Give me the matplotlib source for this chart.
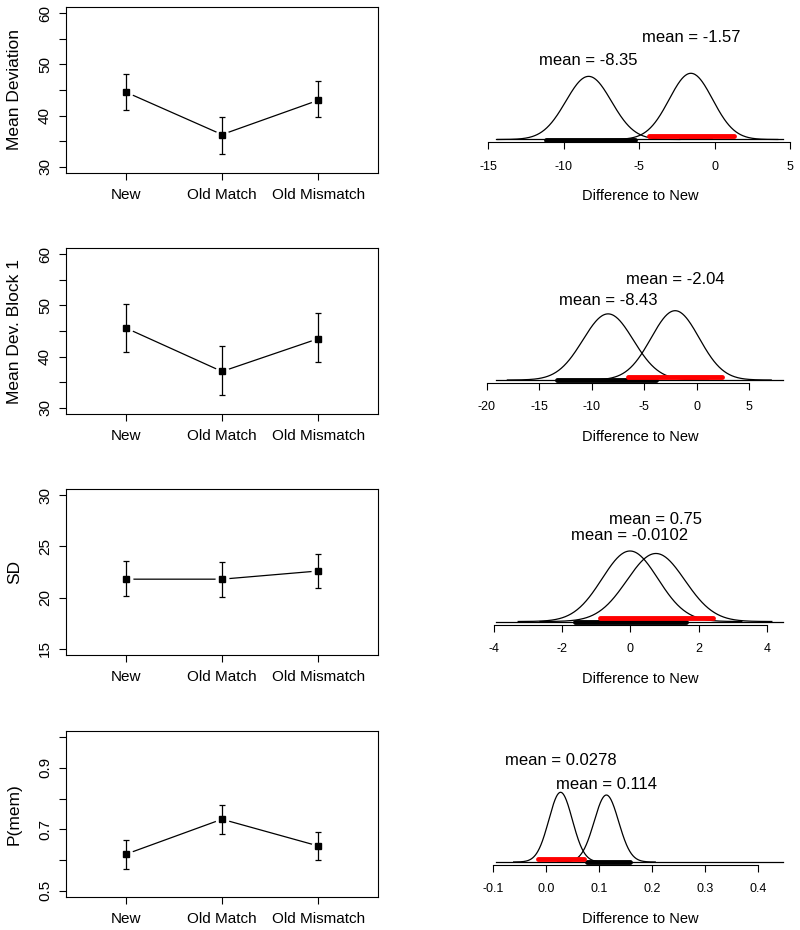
import numpy as np
import matplotlib.pyplot as plt
from matplotlib.transforms import ScaledTranslation

plt.rcParams['font.family'] = ['Liberation Sans', 'DejaVu Sans']
plt.rcParams['axes.unicode_minus'] = False

# ---- data: condition means with interval ends (left column)
cond = ["New", "Old Match", "Old Mismatch"]

md_mean = [44.6, 36.3, 43.0]
md_lo = [41.0, 32.5, 39.7]
md_hi = [48.1, 39.7, 46.8]

b1_mean = [45.6, 37.1, 43.5]
b1_lo = [40.9, 32.5, 39.0]
b1_hi = [50.3, 42.1, 48.5]

sd_mean = [21.8, 21.8, 22.6]
sd_lo = [20.2, 20.1, 20.9]
sd_hi = [23.6, 23.45, 24.3]

pm_mean = [0.619, 0.733, 0.646]
pm_lo = [0.572, 0.686, 0.599]
pm_hi = [0.665, 0.780, 0.692]

ylabels = ["Mean Deviation", "Mean Dev. Block 1", "SD", "P(mem)"]
ylims = [(30, 60), (30, 60), (15, 30), (0.5, 1.0)]
yticks = [[30, 35, 40, 45, 50, 55, 60],
          [30, 35, 40, 45, 50, 55, 60],
          [15, 20, 25, 30],
          [0.5, 0.6, 0.7, 0.8, 0.9, 1.0]]
ytick_labels = [["30", "", "40", "", "50", "", "60"],
                ["30", "", "40", "", "50", "", "60"],
                ["15", "20", "25", "30"],
                ["0.5", "", "0.7", "", "0.9", ""]]

# ---- data: posterior of difference to New (right column)
# Old Match - New (black)
match_mean = [-8.35, -8.43, -0.0102, 0.114]
match_sd = [1.51, 2.40, 0.82, 0.0230]
match_hdi = [(-11.19, -5.27), (-13.3, -3.9), (-1.62, 1.63), (0.0777, 0.1584)]
# Old Mismatch - New (red)
mism_mean = [-1.57, -2.04, 0.75, 0.0278]
mism_sd = [1.44, 2.29, 0.85, 0.0221]
mism_hdi = [(-4.32, 1.32), (-6.56, 2.40), (-0.89, 2.43), (-0.0153, 0.0724)]
extra_seg = {0: (-2.29, -0.19)}

xticks_r = [[-15, -10, -5, 0, 5],
            [-20, -15, -10, -5, 0, 5],
            [-4, -2, 0, 2, 4],
            [-0.1, 0.0, 0.1, 0.2, 0.3, 0.4]]
xtick_labels_r = [["-15", "-10", "-5", "0", "5"],
                  ["-20", "-15", "-10", "-5", "0", "5"],
                  ["-4", "-2", "0", "2", "4"],
                  ["-0.1", "0.0", "0.1", "0.2", "0.3", "0.4"]]

# ---- layout (pixels)
W, H = 800, 930
fig = plt.figure(figsize=(8, 9.3), dpi=100)


def px_axes(x0, y0, x1, y1):
    return fig.add_axes([x0 / W, 1 - y1 / H, (x1 - x0) / W, (y1 - y0) / H])


def shift(ax, dy_px):
    return ax.transData + ScaledTranslation(0, dy_px / 100, fig.dpi_scale_trans)


left_tops = [7, 248, 489, 731]
left_data = [(md_mean, md_lo, md_hi), (b1_mean, b1_lo, b1_hi),
             (sd_mean, sd_lo, sd_hi), (pm_mean, pm_lo, pm_hi)]

for i, (m, lo, hi) in enumerate(left_data):
    top = left_tops[i]
    ax = px_axes(66, top, 378, top + 166)
    m, lo, hi = np.array(m), np.array(lo), np.array(hi)
    x = np.arange(1, 4)
    ax.plot(x, m, color='k', lw=0.9, zorder=1)
    ax.plot(x, m, 'o', ms=9, mfc='white', mec='white', zorder=2)
    ax.errorbar(x, m, yerr=[m - lo, hi - m], fmt='none', ecolor='k',
                elinewidth=0.9, capsize=2, capthick=0.9, zorder=3)
    ax.plot(x, m, 's', ms=4.5, color='k', zorder=4)

    y0, y1 = ylims[i]
    pad = (y1 - y0) * 0.04
    ax.set_ylim(y0 - pad, y1 + pad)
    ax.set_xlim(0.38, 3.62)
    ax.set_xticks(x, cond)
    ax.set_yticks(yticks[i], ytick_labels[i])
    ax.tick_params(axis='both', direction='out', length=5, width=0.8, labelsize=11)
    ax.tick_params(axis='x', pad=6)
    ax.tick_params(axis='y', labelrotation=90, pad=5)
    for lab in ax.get_yticklabels():
        lab.set_va('center')
    for s in ax.spines.values():
        s.set_linewidth(0.8)
    ax.set_ylabel(ylabels[i], fontsize=12.5)
    ax.yaxis.set_label_coords((14.5 - 66) / 312, 0.5)
    ax.yaxis.label.set_va('center')

# right column
baselines = [139.5, 380, 621.5, 862]
axis_off = [3, 3, 3.5, 2.5]
peak_px = [66.2, 69.3, 70.5, 69.7]
tick_px = [(488.3, 790), (486.7, 749), (494, 766.7), (492.7, 758.3)]
lab_black = [79, 79.3, 86.5, 77.7]
lab_red = [101.8, 100.7, 102, 102]
RL, RR, RH = 470, 800, 110

for i in range(4):
    base = baselines[i]
    ax = px_axes(RL, base - RH, RR, base)

    t = xticks_r[i]
    p1, p2 = tick_px[i]
    k = (p2 - p1) / (t[-1] - t[0])
    ax.set_xlim(t[0] - (p1 - RL) / k, t[0] + (RR - p1) / k)

    peaks = []
    for mu, sg in [(match_mean[i], match_sd[i]), (mism_mean[i], mism_sd[i])]:
        xs = np.linspace(mu - 4 * sg, mu + 4 * sg, 300)
        dens = np.exp(-0.5 * ((xs - mu) / sg) ** 2) / (sg * np.sqrt(2 * np.pi))
        ax.plot(xs, dens, color='k', lw=0.9, clip_on=False)
        peaks.append(dens.max())
    ax.set_ylim(0, max(peaks) * RH / peak_px[i])
    ax.axhline(0, xmin=26 / 330, xmax=313 / 330, color='k', lw=0.9, clip_on=False)

    if i in extra_seg:
        ax.plot(extra_seg[i], [0, 0], color='k', lw=1.2, clip_on=False,
                transform=shift(ax, 0))
    ax.plot(match_hdi[i], [0, 0], color='k', lw=3.5, solid_capstyle='round',
            clip_on=False, transform=shift(ax, -0.3))
    ax.plot(mism_hdi[i], [0, 0], color='#ff0000', lw=3.5, solid_capstyle='round',
            clip_on=False, transform=shift(ax, 3.3))

    ax.text(match_mean[i], 0, "mean = %.3g" % match_mean[i], ha='center', va='center',
            fontsize=12, transform=shift(ax, lab_black[i]))
    ax.text(mism_mean[i], 0, "mean = %.3g" % mism_mean[i], ha='center', va='center',
            fontsize=12, transform=shift(ax, lab_red[i]))

    for s in ['top', 'right', 'left']:
        ax.spines[s].set_visible(False)
    ax.spines['bottom'].set_position(('outward', axis_off[i] * 0.72))
    ax.spines['bottom'].set_bounds(t[0], t[-1])
    ax.spines['bottom'].set_linewidth(0.8)
    ax.set_yticks([])
    ax.set_xticks(t, xtick_labels_r[i])
    ax.tick_params(axis='x', direction='out', length=5, width=0.8, labelsize=9, pad=8)
    ax.set_xlabel("Difference to New", fontsize=10.5)
    ax.xaxis.set_label_coords((640 - RL) / (RR - RL), -57 / RH)
    ax.xaxis.label.set_va('center')
    ax.patch.set_visible(False)

fig.savefig("out.png", dpi=100)
